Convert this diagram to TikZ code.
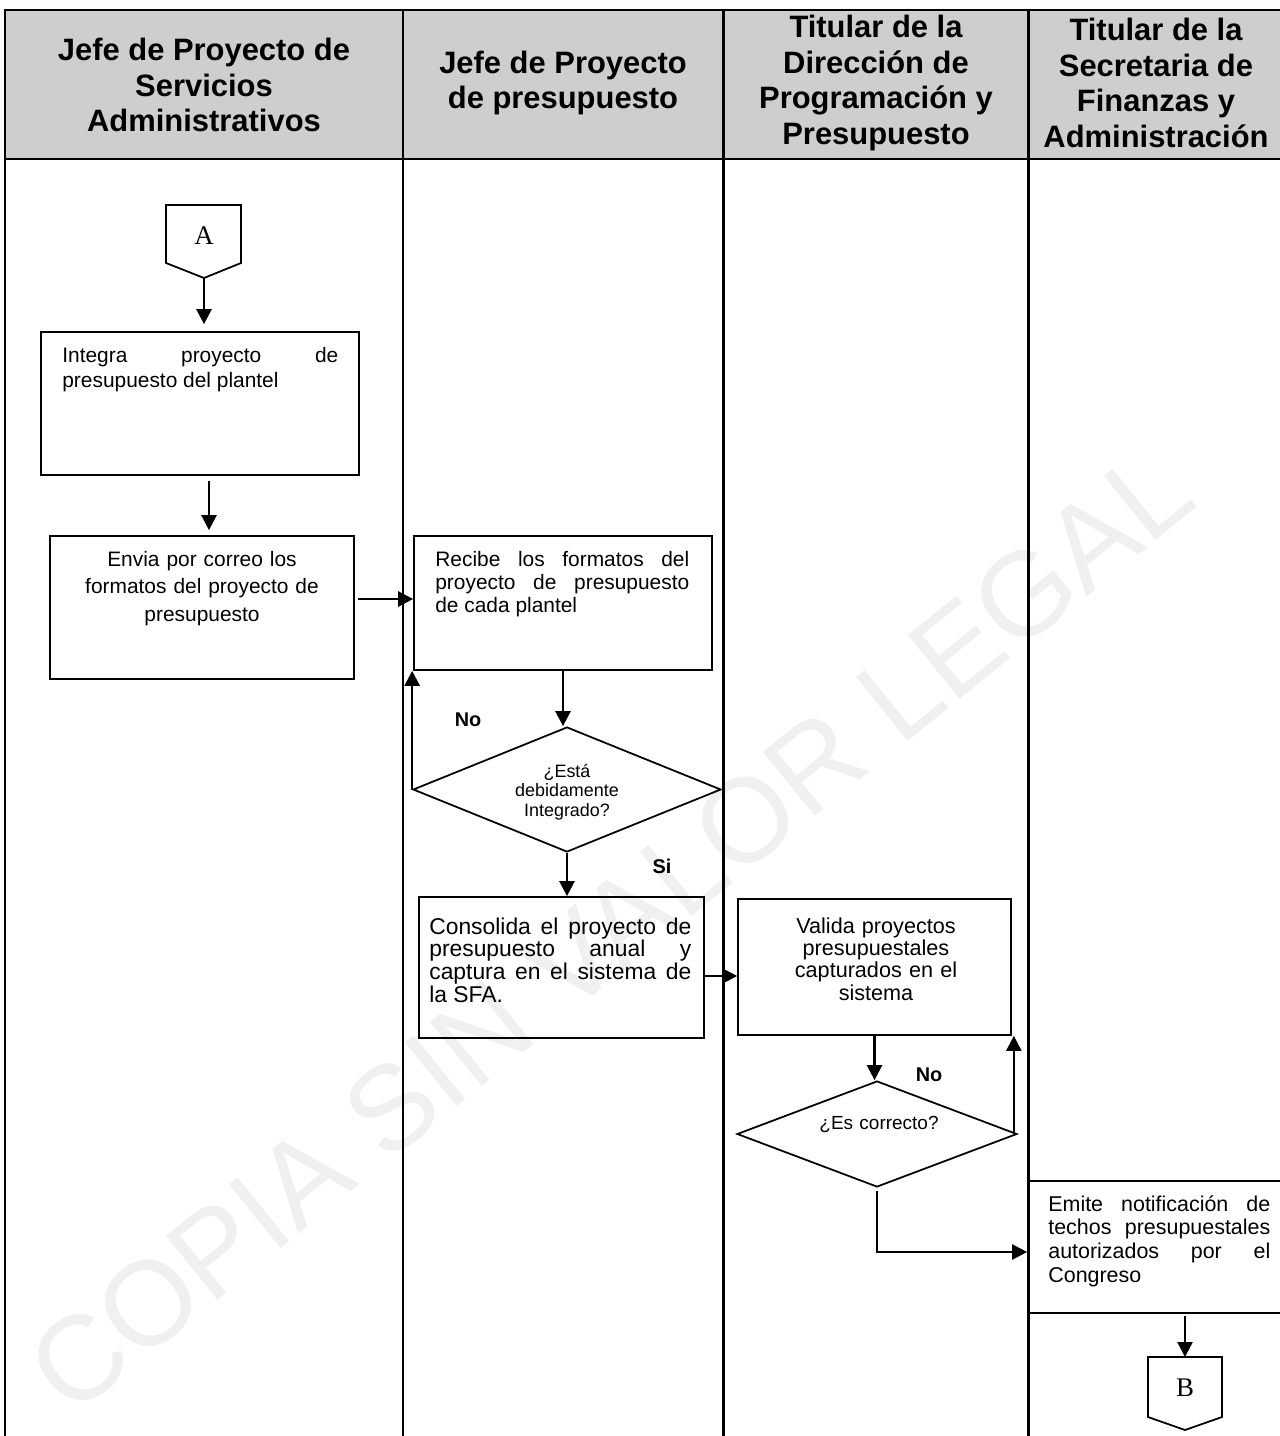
\documentclass[tikz,border=0pt]{standalone}
\usepackage{fontspec}
\setmainfont{Liberation Sans}
\newfontfamily\conserif{Liberation Serif}
\usetikzlibrary{shapes.geometric,arrows.meta}
\definecolor{hdrgray}{RGB}{206,206,206}
\definecolor{wmgray}{RGB}{240,240,240}
\begin{document}
\begin{tikzpicture}[x=0.02cm,y=-0.02cm,
  lane/.style={line width=1.7pt},
  box/.style={draw,line width=1pt,rectangle,inner sep=0pt},
  dia/.style={draw,line width=1pt,diamond,inner sep=0pt},
  conn/.style={draw,line width=1pt,line join=miter},
  arr/.style={line width=1.4pt,-{Triangle[length=0.3cm,width=0.3cm]}},
  txt/.style={inner sep=0pt,text width=#1},
  hdr/.style={font=\fontsize{17.6}{20.2}\selectfont\bfseries,align=center,inner sep=0pt},
  lbl/.style={font=\fontsize{11.3}{13}\selectfont\bfseries,inner sep=0pt},
  letter/.style={font=\conserif\fontsize{15.3}{16}\selectfont,inner sep=0pt}
]
\clip (0,0) rectangle (1280,1436);
% watermark
\node[text=wmgray,font=\fontsize{68}{68}\selectfont,rotate=39] (wm) at (610,930) {COPIA SIN VALOR LEGAL};
% header and lanes
\fill[hdrgray] (5,10) rectangle (1300,159);
\draw[lane] (1300,10) -- (5,10) -- (5,1440);
\draw[lane] (5,159) -- (1300,159);
\draw[lane] (403,10) -- (403,1440);
\draw[lane] (723,10) -- (723,1440);
\draw[lane] (1028,10) -- (1028,1440);
\node[hdr] (h1) at (204,85) {Jefe de Proyecto de\\Servicios\\Administrativos};
\node[hdr] (h2) at (563,83) {Jefe de Proyecto\\de presupuesto};
\node[hdr] (h3) at (876,83) {Titular de la\\Dirección de\\Programación y\\Presupuesto};
\node[hdr] (h4) at (1156,83) {Titular de la\\Secretaria de\\Finanzas y\\Administración};

% connector A
\draw[conn] (166,205) -- (241,205) -- (241,263) -- (204,278) -- (166,263) -- cycle;
\node[letter] (A) at (204,236) {A};
\coordinate (Apt) at (204,278);

% boxes
\node[box,minimum width=6.36cm,minimum height=2.86cm] (b1) at (200,403.5) {};
\node[txt=5.52cm,align=justify,anchor=base west,font=\fontsize{11.9}{14.7}\selectfont] (t1) at (62,362) {Integra proyecto de\linebreak presupuesto del plantel};

\node[box,minimum width=6.08cm,minimum height=2.86cm] (b2) at (202,607.5) {};
\node[txt=5.4cm,align=center,anchor=base,font=\fontsize{11.9}{15.9}\selectfont] (t2) at (202,566) {Envia por correo los\\formatos del proyecto de\\presupuesto};

\node[box,minimum width=5.96cm,minimum height=2.68cm] (b3) at (563,603) {};
\node[txt=5.08cm,align=justify,anchor=base west,font=\fontsize{11.9}{13.3}\selectfont] (t3) at (435,566) {Recibe los formatos del\linebreak proyecto de presupuesto\linebreak de cada plantel};

\node[dia,minimum width=6.16cm,minimum height=2.5cm] (d1) at (567,789.5) {};
\node[txt=3cm,align=center,anchor=base,font=\fontsize{10.2}{11.3}\selectfont] (dt1) at (567,777) {¿Está\\debidamente\\Integrado?};

\node[box,minimum width=5.7cm,minimum height=2.82cm] (b4) at (561.5,967.5) {};
\node[txt=5.24cm,align=justify,anchor=base west,font=\fontsize{13}{13}\selectfont] (t4) at (429,934) {Consolida el proyecto de\linebreak presupuesto anual y\linebreak captura en el sistema de\linebreak la SFA.};

\node[box,minimum width=5.46cm,minimum height=2.72cm] (b5) at (874.5,967) {};
\node[txt=5cm,align=center,anchor=base,font=\fontsize{12.3}{12.8}\selectfont] (t5) at (876,933) {Valida proyectos\\presupuestales\\capturados en el\\sistema};

\node[dia,minimum width=5.6cm,minimum height=2.12cm] (d2) at (877,1134) {};
\node[txt=3.5cm,align=center,anchor=base,font=\fontsize{10.8}{12}\selectfont] (dt2) at (879,1129) {¿Es correcto?};

\node[box,minimum width=5.28cm,minimum height=2.64cm] (b6) at (1160,1247) {};
\node[txt=4.44cm,align=justify,anchor=base west,font=\fontsize{12.2}{13.6}\selectfont] (t6) at (1048,1211) {Emite notificación de\linebreak techos presupuestales\linebreak autorizados por el\linebreak Congreso};

% connector B
\draw[conn] (1148,1357) -- (1222,1357) -- (1222,1417) -- (1185,1430) -- (1148,1417) -- cycle;
\node[letter] (B) at (1185,1388) {B};
\coordinate (Btop) at (1185,1357);

% labels
\node[lbl] (no1) at (468,720) {No};
\node[lbl] (si1) at (662,866) {Si};
\node[lbl] (no2) at (929,1075) {No};

% arrows
\draw[arr,shorten >=0.14cm] (Apt) -- (Apt |- b1.north);
\coordinate (s1) at ([xshift=0.18cm]b1.south);
\draw[arr,shorten <=0.1cm,shorten >=0.1cm] (s1) -- (s1 |- b2.north);
\coordinate (e2) at ([yshift=0.17cm]b2.east);
\draw[arr,shorten <=0.06cm] (e2) -- (e2 -| b3.west);
\draw[arr] (b3.south) -- (b3.south |- d1.north);
\draw[arr] (d1.west) -- (d1.west |- b3.south);
\draw[arr] (d1.south) -- (d1.south |- b4.north);
\coordinate (e4) at ([yshift=-0.17cm]b4.east);
\draw[arr] (e4) -- (e4 -| b5.west);
\draw[arr] (b5.south) -- (b5.south |- d2.north);
\coordinate (e5) at ([xshift=-0.08cm]d2.east);
\draw[arr] (e5) -- (e5 |- b5.south);
\coordinate (e6) at ([yshift=-0.1cm]b6.west);
\draw[arr,shorten <=0.06cm] (d2.south) |- (e6);
\coordinate (s6) at ([xshift=0.5cm]b6.south);
\draw[arr,shorten <=0.04cm] (s6) -- (s6 |- Btop);
\end{tikzpicture}
\end{document}
